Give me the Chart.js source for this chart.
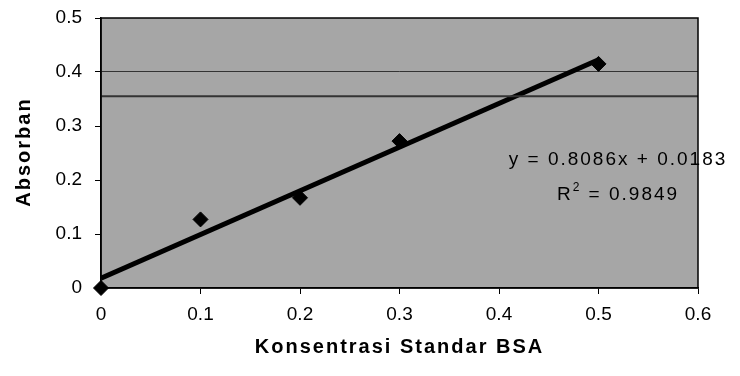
<!DOCTYPE html>
<html><head><meta charset="utf-8">
<script src="https://cdn.jsdelivr.net/npm/chart.js@4"></script>
<style>html,body{margin:0;padding:0;background:#fff}#wrap{width:740px;height:376px}</style>
</head><body><div id="wrap"><canvas id="c" width="740" height="376"></canvas></div>
<script>
const xValues = [0, 0.1, 0.2, 0.3, 0.5];
const yValues = [0, 0.127, 0.167, 0.272, 0.415];
const trendX = [0, 0.5];
const trendY = [0.0183, 0.4226];
const xTicks = [0, 0.1, 0.2, 0.3, 0.4, 0.5, 0.6];
const yTicks = [0, 0.1, 0.2, 0.3, 0.4, 0.5];
const equationText = 'y = 0.8086x + 0.0183';
const r2Text = '0.9849';
const xTitle = 'Konsentrasi Standar BSA';
const yTitle = 'Absorban';

const FONT = '"Liberation Sans", Arial, sans-serif';

const bgPlugin = {
  id: 'bg',
  beforeDraw(chart) {
    const {ctx, chartArea: a} = chart;
    ctx.save();
    ctx.fillStyle = '#a6a6a6';
    ctx.fillRect(a.left, a.top, a.right - a.left, a.bottom - a.top);
    ctx.restore();
  },
  afterDatasetsDraw(chart) {
    const {ctx, chartArea: a, scales} = chart;
    ctx.save();
    // scan artifact line
    const yy = scales.y.getPixelForValue(0.355);
    ctx.strokeStyle = '#333';
    ctx.lineWidth = 2;
    ctx.beginPath(); ctx.moveTo(a.left, yy); ctx.lineTo(a.right, yy); ctx.stroke();
    // border
    ctx.strokeStyle = '#000';
    ctx.lineWidth = 1.5;
    ctx.strokeRect(a.left, a.top, a.right - a.left, a.bottom - a.top);
    // equation
    ctx.fillStyle = '#000';
    ctx.letterSpacing = '2px';
    ctx.font = '19px ' + FONT;
    ctx.textAlign = 'center';
    ctx.textBaseline = 'alphabetic';
    const cx = 618;
    ctx.fillText(equationText, cx, 165);
    const rW = ctx.measureText('R').width;
    const rest = ' = ' + r2Text;
    const restW = ctx.measureText(rest).width;
    ctx.font = '12px ' + FONT;
    const supW = ctx.measureText('2').width;
    const total = rW + supW + restW;
    let x0 = cx - total / 2;
    ctx.textAlign = 'left';
    ctx.font = '19px ' + FONT;
    ctx.fillText('R', x0, 200);
    ctx.font = '12px ' + FONT;
    ctx.fillText('2', x0 + rW, 191);
    ctx.font = '19px ' + FONT;
    ctx.fillText(rest, x0 + rW + supW, 200);
    // axis titles
    ctx.letterSpacing = '2px';
    ctx.font = 'bold 20px ' + FONT;
    ctx.textAlign = 'center';
    ctx.textBaseline = 'middle';
    ctx.fillText(xTitle, (a.left + a.right) / 2, 347);
    ctx.translate(24, 152);
    ctx.rotate(-Math.PI / 2);
    ctx.fillText(yTitle, 0, 0);
    ctx.restore();
  }
};

new Chart(document.getElementById('c'), {
  type: 'scatter',
  data: {
    datasets: [
      {
        type: 'line',
        data: trendX.map((x, i) => ({x, y: trendY[i]})),
        borderColor: '#000', borderWidth: 5, pointRadius: 0, fill: false, order: 2
      },
      {
        data: xValues.map((x, i) => ({x, y: yValues[i]})),
        pointStyle: 'rectRot', pointRadius: 7.5, backgroundColor: '#000', borderColor: '#000', order: 1, clip: false
      }
    ]
  },
  options: {
    responsive: false, animation: false,
    layout: {padding: {left: 0, right: 42, top: 18, bottom: 0}},
    plugins: {legend: {display: false}, tooltip: {enabled: false}},
    scales: {
      x: {
        type: 'linear', min: 0, max: 0.6,
        afterBuildTicks(s) { s.ticks = xTicks.map(v => ({value: v})); },
        afterFit(s) { s.height = 376 - 288; s.paddingLeft = 0; s.paddingRight = 0; },
        grid: {display: true, drawOnChartArea: false, color: '#000', tickLength: 6, tickColor: '#000'},
        border: {color: '#000', width: 1.5},
        ticks: {color: '#000', font: {family: FONT, size: 19}, padding: 9,
          callback: v => String(v)},
        title: {display: false}
      },
      y: {
        type: 'linear', min: 0, max: 0.5,
        afterBuildTicks(s) { s.ticks = yTicks.map(v => ({value: v})); },
        afterFit(s) { s.width = 101; s.paddingTop = 0; s.paddingBottom = 0; },
        grid: {color: ctx => (ctx.tick && ctx.tick.value === 0.4) ? '#333' : 'rgba(0,0,0,0)', lineWidth: 1, tickLength: 6, tickColor: '#000', drawTicks: true},
        border: {color: '#000', width: 1.5},
        ticks: {color: '#000', font: {family: FONT, size: 19}, padding: 13,
          callback: v => String(v)},
        title: {display: false}
      }
    }
  },
  plugins: [bgPlugin]
});
</script></body></html>
